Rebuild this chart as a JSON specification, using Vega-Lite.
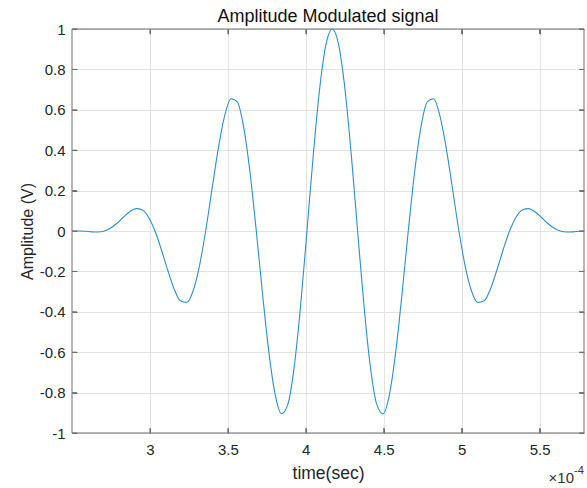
{
  "$schema": "https://vega.github.io/schema/vega-lite/v6.json",
  "width": 512,
  "height": 404,
  "autosize": {"type": "none"},
  "padding": {"left": 72, "top": 29, "right": 3, "bottom": 55},
  "background": "white",
  "config": {
    "font": "Liberation Sans",
    "view": {"stroke": null},
    "axis": {
      "labelFont": "Liberation Sans",
      "titleFont": "Liberation Sans",
      "labelFontSize": 15,
      "labelColor": "rgb(38,38,38)",
      "titleColor": "rgb(38,38,38)",
      "titleFontWeight": "normal",
      "domain": false,
      "tickColor": "rgb(110,110,110)",
      "tickWidth": 1,
      "gridColor": "rgb(227,227,227)",
      "gridWidth": 1
    }
  },
  "title": {
    "text": "Amplitude Modulated signal",
    "fontSize": 18,
    "fontWeight": "normal",
    "font": "Liberation Sans",
    "color": "rgb(17,17,17)",
    "anchor": "middle",
    "offset": -4
  },
  "datasets": {
    "signal": [
      {"t": 2.5, "v": 0},
      {"t": 2.545, "v": 0},
      {"t": 2.585625, "v": -0.0014},
      {"t": 2.62625, "v": -0.0044},
      {"t": 2.666875, "v": -0.0053},
      {"t": 2.7075, "v": 0},
      {"t": 2.748125, "v": 0.0146},
      {"t": 2.78875, "v": 0.0385},
      {"t": 2.829375, "v": 0.0681},
      {"t": 2.87, "v": 0.0955},
      {"t": 2.910625, "v": 0.1107},
      {"t": 2.95125, "v": 0.1036},
      {"t": 2.991875, "v": 0.0671},
      {"t": 3.0325, "v": 0},
      {"t": 3.073125, "v": -0.0914},
      {"t": 3.11375, "v": -0.193},
      {"t": 3.154375, "v": -0.2852},
      {"t": 3.195, "v": -0.3455},
      {"t": 3.235625, "v": -0.3541},
      {"t": 3.27625, "v": -0.2983},
      {"t": 3.316875, "v": -0.1763},
      {"t": 3.3575, "v": 0},
      {"t": 3.398125, "v": 0.2064},
      {"t": 3.43875, "v": 0.4089},
      {"t": 3.479375, "v": 0.5698},
      {"t": 3.52, "v": 0.6545},
      {"t": 3.560625, "v": 0.6387},
      {"t": 3.60125, "v": 0.5141},
      {"t": 3.641875, "v": 0.2913},
      {"t": 3.6825, "v": 0},
      {"t": 3.723125, "v": -0.3156},
      {"t": 3.76375, "v": -0.6036},
      {"t": 3.804375, "v": -0.8132},
      {"t": 3.845, "v": -0.9045},
      {"t": 3.885625, "v": -0.8558},
      {"t": 3.92625, "v": -0.6686},
      {"t": 3.966875, "v": -0.3681},
      {"t": 4.0075, "v": 0},
      {"t": 4.048125, "v": 0.3774},
      {"t": 4.08875, "v": 0.7028},
      {"t": 4.129375, "v": 0.9225},
      {"t": 4.17, "v": 1},
      {"t": 4.210625, "v": 0.9225},
      {"t": 4.25125, "v": 0.7028},
      {"t": 4.291875, "v": 0.3774},
      {"t": 4.3325, "v": 0},
      {"t": 4.373125, "v": -0.3681},
      {"t": 4.41375, "v": -0.6686},
      {"t": 4.454375, "v": -0.8558},
      {"t": 4.495, "v": -0.9045},
      {"t": 4.535625, "v": -0.8132},
      {"t": 4.57625, "v": -0.6036},
      {"t": 4.616875, "v": -0.3156},
      {"t": 4.6575, "v": 0},
      {"t": 4.698125, "v": 0.2913},
      {"t": 4.73875, "v": 0.5141},
      {"t": 4.779375, "v": 0.6387},
      {"t": 4.82, "v": 0.6545},
      {"t": 4.860625, "v": 0.5698},
      {"t": 4.90125, "v": 0.4089},
      {"t": 4.941875, "v": 0.2064},
      {"t": 4.9825, "v": 0},
      {"t": 5.023125, "v": -0.1763},
      {"t": 5.06375, "v": -0.2983},
      {"t": 5.104375, "v": -0.3541},
      {"t": 5.145, "v": -0.3455},
      {"t": 5.185625, "v": -0.2852},
      {"t": 5.22625, "v": -0.193},
      {"t": 5.266875, "v": -0.0914},
      {"t": 5.3075, "v": 0},
      {"t": 5.348125, "v": 0.0671},
      {"t": 5.38875, "v": 0.1036},
      {"t": 5.429375, "v": 0.1107},
      {"t": 5.47, "v": 0.0955},
      {"t": 5.510625, "v": 0.0681},
      {"t": 5.55125, "v": 0.0385},
      {"t": 5.591875, "v": 0.0146},
      {"t": 5.6325, "v": 0},
      {"t": 5.673125, "v": -0.0053},
      {"t": 5.71375, "v": -0.0044},
      {"t": 5.754375, "v": -0.0014},
      {"t": 5.795, "v": 0}
    ],
    "xticks": [{"tv": 3}, {"tv": 3.5}, {"tv": 4}, {"tv": 4.5}, {"tv": 5}, {"tv": 5.5}],
    "yticks": [{"tv": -1}, {"tv": -0.8}, {"tv": -0.6}, {"tv": -0.4}, {"tv": -0.2}, {"tv": 0}, {"tv": 0.2}, {"tv": 0.4}, {"tv": 0.6}, {"tv": 0.8}, {"tv": 1}],
    "one": [{"s": "\u00d710", "e": "-4"}]
  },
  "data": {"name": "signal"},
  "layer": [
    {
      "mark": {"type": "line", "interpolate": "monotone", "stroke": "rgb(43,143,211)", "strokeWidth": 1.1, "clip": true},
      "encoding": {
        "x": {
          "field": "t",
          "type": "quantitative",
          "scale": {"domain": [2.5, 5.785], "nice": false, "zero": false},
          "axis": {
            "orient": "bottom",
            "values": [3, 3.5, 4, 4.5, 5, 5.5],
            "format": ".1~f",
            "grid": true,
            "tickSize": -5,
            "labelPadding": 14,
            "title": "time(sec)",
            "titleFontSize": 17.5,
            "titlePadding": 7
          }
        },
        "y": {
          "field": "v",
          "type": "quantitative",
          "scale": {"domain": [-1, 1], "nice": false, "zero": false},
          "axis": {
            "orient": "left",
            "values": [-1, -0.8, -0.6, -0.4, -0.2, 0, 0.2, 0.4, 0.6, 0.8, 1],
            "format": ".1~f",
            "labelExpr": "replace(datum.label, '\u2212', '-')",
            "grid": true,
            "tickSize": -5,
            "labelPadding": 12,
            "title": "Amplitude (V)",
            "titleFontSize": 16,
            "titlePadding": 4
          }
        }
      }
    },
    {
      "data": {"name": "one"},
      "mark": {"type": "text", "align": "right", "baseline": "middle", "dx": -10, "dy": 45, "fontSize": 15, "color": "rgb(51,51,51)", "font": "Liberation Sans"},
      "encoding": {
        "text": {"field": "s"},
        "x": {"datum": 5.785, "type": "quantitative", "axis": {"orient": "top", "values": [3, 3.5, 4, 4.5, 5, 5.5], "labels": false, "grid": false, "domain": false, "tickSize": -5, "title": null}},
        "y": {"datum": -1, "type": "quantitative", "axis": {"orient": "right", "values": [-1, -0.8, -0.6, -0.4, -0.2, 0, 0.2, 0.4, 0.6, 0.8, 1], "labels": false, "grid": false, "domain": false, "tickSize": -5, "title": null}}
      }
    },
    {
      "data": {"name": "one"},
      "mark": {"type": "text", "align": "left", "baseline": "middle", "dx": -10, "dy": 38, "fontSize": 11, "color": "rgb(51,51,51)", "font": "Liberation Sans"},
      "encoding": {
        "text": {"field": "e"},
        "x": {"datum": 5.785, "type": "quantitative", "axis": null},
        "y": {"datum": -1, "type": "quantitative", "axis": null}
      }
    },
    {
      "data": {"name": "one"},
      "mark": {"type": "rule", "color": "rgb(110,110,110)", "strokeWidth": 1},
      "encoding": {"y": {"datum": 1, "type": "quantitative", "axis": null}}
    },
    {
      "data": {"name": "one"},
      "mark": {"type": "rule", "color": "rgb(110,110,110)", "strokeWidth": 1},
      "encoding": {"y": {"datum": -1, "type": "quantitative", "axis": null}}
    },
    {
      "data": {"name": "one"},
      "mark": {"type": "rule", "color": "rgb(110,110,110)", "strokeWidth": 1},
      "encoding": {"x": {"datum": 2.5, "type": "quantitative", "axis": null}}
    },
    {
      "data": {"name": "one"},
      "mark": {"type": "rule", "color": "rgb(110,110,110)", "strokeWidth": 1},
      "encoding": {"x": {"datum": 5.785, "type": "quantitative", "axis": null}}
    },
    {
      "data": {"name": "xticks"},
      "mark": {"type": "rule", "color": "rgb(110,110,110)", "strokeWidth": 1, "y2Offset": -5},
      "encoding": {
        "x": {"field": "tv", "type": "quantitative", "axis": null},
        "y": {"datum": -1, "type": "quantitative", "axis": null},
        "y2": {"datum": -1}
      }
    },
    {
      "data": {"name": "xticks"},
      "mark": {"type": "rule", "color": "rgb(110,110,110)", "strokeWidth": 1, "y2Offset": 5},
      "encoding": {
        "x": {"field": "tv", "type": "quantitative", "axis": null},
        "y": {"datum": 1, "type": "quantitative", "axis": null},
        "y2": {"datum": 1}
      }
    },
    {
      "data": {"name": "yticks"},
      "mark": {"type": "rule", "color": "rgb(110,110,110)", "strokeWidth": 1, "x2Offset": 5},
      "encoding": {
        "y": {"field": "tv", "type": "quantitative", "axis": null},
        "x": {"datum": 2.5, "type": "quantitative", "axis": null},
        "x2": {"datum": 2.5}
      }
    },
    {
      "data": {"name": "yticks"},
      "mark": {"type": "rule", "color": "rgb(110,110,110)", "strokeWidth": 1, "x2Offset": -5},
      "encoding": {
        "y": {"field": "tv", "type": "quantitative", "axis": null},
        "x": {"datum": 5.785, "type": "quantitative", "axis": null},
        "x2": {"datum": 5.785}
      }
    }
  ],
  "resolve": {"axis": {"x": "independent", "y": "independent"}}
}
